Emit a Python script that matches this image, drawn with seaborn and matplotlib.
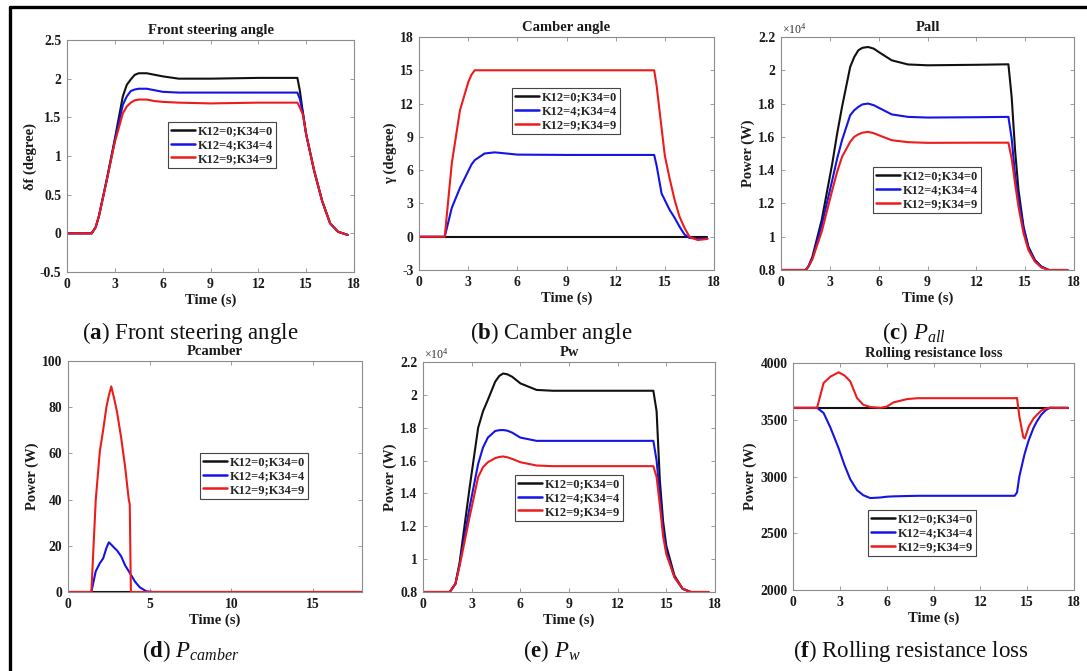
import matplotlib
matplotlib.use("Agg")
import matplotlib.pyplot as plt
from matplotlib.lines import Line2D
from matplotlib.ticker import FuncFormatter
import pandas as pd
import seaborn as sns

# ---------------------------------------------------------------- data
series_labels = ["K12=0;K34=0", "K12=4;K34=4", "K12=9;K34=9"]
series_colors = ["#111111", "#1414e6", "#ec1c1c"]

# (a) front steering angle (degree)
t_steer = [0, 1.55, 1.8, 2.0, 2.5, 3.0, 3.5, 3.75, 4.0, 4.25, 4.5, 5.0, 5.5, 6.0, 7.0, 9.0, 12.0,
           14.45, 14.6, 14.8, 15.0, 15.5, 16.0, 16.5, 17.0, 17.6]
steer_k0 = [0, 0, 0.08, 0.22, 0.70, 1.22, 1.77, 1.92, 1.99, 2.05, 2.07, 2.07, 2.05, 2.03, 2.00, 2.00, 2.01,
            2.01, 1.85, 1.55, 1.28, 0.81, 0.42, 0.13, 0.02, -0.02]
steer_k4 = [0, 0, 0.08, 0.22, 0.70, 1.20, 1.66, 1.77, 1.84, 1.86, 1.87, 1.87, 1.85, 1.83, 1.82, 1.82, 1.82,
            1.82, 1.74, 1.55, 1.28, 0.81, 0.42, 0.13, 0.02, -0.02]
steer_k9 = [0, 0, 0.08, 0.22, 0.69, 1.18, 1.55, 1.64, 1.69, 1.72, 1.73, 1.73, 1.71, 1.70, 1.69, 1.68, 1.69,
            1.69, 1.63, 1.53, 1.28, 0.81, 0.42, 0.13, 0.02, -0.02]

# (b) camber angle (degree)
t_camber = [0, 1.57, 2.0, 2.5, 3.0, 3.2, 3.4, 4.0, 4.6, 5.0, 6.0, 9.0, 12.0,
            14.35, 14.5, 14.8, 15.0, 15.3, 15.6, 15.9, 16.2, 16.5, 17.0, 17.6]
camber_k0 = [0, 0, 0, 0, 0, 0, 0, 0, 0, 0, 0, 0, 0,
             0, 0, 0, 0, 0, 0, 0, 0, 0, 0, 0]
camber_k4 = [0, 0, 2.6, 4.4, 5.9, 6.5, 6.9, 7.5, 7.6, 7.55, 7.4, 7.37, 7.37,
             7.37, 6.4, 3.9, 3.3, 2.4, 1.7, 0.9, 0.2, -0.1, -0.2, -0.15]
camber_k9 = [0, 0, 6.6, 11.4, 13.9, 14.6, 15.0, 15.0, 15.0, 15.0, 15.0, 15.0, 15.0,
             15.0, 13.6, 9.8, 7.3, 5.2, 3.3, 1.8, 0.8, 0.0, -0.3, -0.2]

# (c) total power P_all (W)
t_pall = [0, 1.52, 1.7, 1.93, 2.5, 3.15, 3.45, 3.75, 4.25, 4.5, 4.75, 5.0, 5.35, 5.7, 6.0, 6.8, 7.8,
          9.0, 12.0, 13.97, 14.17, 14.38, 14.59, 14.9, 15.2, 15.6, 16.0, 16.45, 17.6]
pall_k0 = [8000, 8000, 8250, 8800, 11000, 14400, 16200, 17800, 20200, 20800, 21200, 21350, 21400,
           21300, 21100, 20600, 20350, 20300, 20330, 20360, 18400, 15200, 12800, 10600, 9400, 8600,
           8200, 8000, 8000]
pall_k4 = [8000, 8000, 8230, 8700, 10700, 13400, 14700, 15800, 17300, 17600, 17800, 17950, 18000,
           17900, 17750, 17350, 17200, 17160, 17180, 17200, 15900, 13700, 12300, 10500, 9300, 8550,
           8200, 8000, 8000]
pall_k9 = [8000, 8000, 8220, 8650, 10300, 12800, 13900, 14800, 15700, 16000, 16150, 16250, 16300,
           16220, 16100, 15800, 15680, 15640, 15650, 15650, 14700, 13200, 11800, 10200, 9200, 8500,
           8150, 8000, 8000]

# (d) camber power P_camber (W)
t_pcam = [0, 1.43, 1.7, 1.95, 2.15, 2.35, 2.5, 2.65, 2.85, 3.0, 3.25, 3.5, 3.72, 3.78,
          3.85, 4.1, 4.4, 4.8, 5.2, 10.0, 15.0, 18.0]
pcam_k0 = [0, 0, 0, 0, 0, 0, 0, 0, 0, 0, 0, 0, 0, 0,
           0, 0, 0, 0, 0, 0, 0, 0]
pcam_k4 = [0, 0, 9, 12.5, 14.5, 19, 21.5, 20.5, 19, 18, 15.5, 11.5, 9, 8.3,
           7.5, 4.5, 2, 0.3, 0, 0, 0, 0]
pcam_k9 = [0, 0, 40, 61, 70, 80, 85, 89, 83, 78, 67, 54, 40, 38,
           0, 0, 0, 0, 0, 0, 0, 0]

# (e) wheel power P_w (W)
t_pw = [0, 1.65, 2.0, 2.26, 2.88, 3.4, 3.7, 4.0, 4.45, 4.7, 4.94, 5.2, 5.5, 6.0, 7.0, 8.0, 12.0,
        14.2, 14.4, 14.6, 14.8, 15.0, 15.5, 16.0, 16.5, 17.6]
pw_k0 = [8000, 8000, 8500, 9800, 14400, 18000, 19000, 19700, 20800, 21150, 21300, 21250, 21100,
         20700, 20300, 20250, 20250, 20250, 19000, 14800, 12300, 10800, 9000, 8200, 8000, 8000]
pw_k4 = [8000, 8000, 8500, 9700, 13200, 15800, 16800, 17400, 17800, 17850, 17860, 17820, 17700,
         17400, 17200, 17200, 17200, 17200, 16000, 13900, 11800, 10500, 8900, 8200, 8000, 8000]
pw_k9 = [8000, 8000, 8500, 9600, 12600, 15000, 15600, 15900, 16150, 16220, 16250, 16200, 16100,
         15900, 15700, 15660, 15660, 15660, 15000, 13300, 11400, 10300, 8900, 8200, 8000, 8000]

# (f) rolling resistance loss (W)
t_roll = [0, 1.54, 1.96, 2.4, 2.92, 3.3, 3.67, 4.1, 4.5, 4.95, 5.6, 6.0, 6.44, 7.3,
          8.0, 12.0, 14.2, 14.35, 14.5, 14.75, 14.85, 15.1, 15.4, 15.6, 15.9, 16.2, 16.46, 17.6]
roll_k0 = [3605, 3605, 3605, 3605, 3605, 3605, 3605, 3605, 3605, 3605, 3605, 3605, 3605, 3605,
           3605, 3605, 3605, 3605, 3605, 3605, 3605, 3605, 3605, 3605, 3605, 3605, 3605, 3605]
roll_k4 = [3605, 3605, 3560, 3430, 3250, 3100, 2975, 2880, 2835, 2810, 2815, 2822, 2825, 2828,
           2830, 2830, 2830, 2860, 3000, 3150, 3206, 3320, 3426, 3480, 3544, 3585, 3606, 3605]
roll_k9 = [3605, 3605, 3824, 3880, 3918, 3890, 3838, 3691, 3632, 3612, 3605, 3615, 3653, 3682,
           3690, 3690, 3690, 3692, 3529, 3347, 3335, 3440, 3510, 3540, 3580, 3600, 3605, 3605]

# ---------------------------------------------------------------- style
sns.set_style("ticks")
plt.rcParams["font.family"] = ["Liberation Serif", "DejaVu Serif"]
plt.rcParams.update({
    "font.weight": "bold",
    "axes.labelweight": "bold",
    "axes.titleweight": "bold",
    "mathtext.fontset": "custom",
    "mathtext.rm": "Liberation Serif:weight=normal",
    "mathtext.it": "Liberation Serif:style=italic:weight=normal",
    "mathtext.bf": "Liberation Serif:weight=bold",
    "axes.edgecolor": "#8c8c8c",
    "axes.linewidth": 0.8,
})

W, H = 1087, 671
fig = plt.figure(figsize=(W / 100, H / 100), dpi=100)
fig.patch.set_facecolor("white")


def px_box(left, top, right, bottom):
    return [left / W, 1 - bottom / H, (right - left) / W, (bottom - top) / H]


def long_frame(t, curves):
    parts = [pd.DataFrame({"Time": t, "Value": y, "Case": lab})
             for lab, y in zip(series_labels, curves)]
    return pd.concat(parts, ignore_index=True)


def panel(box, t, curves, title, ylabel, ylim, yticks, xticks, legend_xy,
          scale=1.0, sci=False):
    ax = fig.add_axes(px_box(*box))
    sns.lineplot(data=long_frame(t, curves), x="Time", y="Value", hue="Case",
                 hue_order=series_labels, palette=series_colors,
                 estimator=None, sort=False, lw=1.5, legend=False, ax=ax)
    ax.set_xlim(0, 18)
    ax.set_ylim(*ylim)
    ax.set_xticks(xticks)
    ax.set_yticks(yticks)
    ax.xaxis.set_major_formatter(FuncFormatter(lambda v, p: f"{v:g}"))
    ax.yaxis.set_major_formatter(FuncFormatter(lambda v, p: f"{v / scale:g}"))
    ax.tick_params(direction="in", top=True, right=True, length=3, width=0.6,
                   color="#8c8c8c", labelsize=9.8, labelcolor="#1a1a1a", pad=4)
    for lab in ax.get_xticklabels() + ax.get_yticklabels():
        lab.set_fontweight("bold")
    ax.set_title(title, fontsize=10.5, fontweight="bold", pad=4, color="#1a1a1a")
    ax.set_xlabel("Time (s)", fontsize=10.5, labelpad=2, color="#1a1a1a")
    ax.set_ylabel(ylabel, fontsize=10.5, labelpad=2, color="#1a1a1a")
    if sci:
        ax.text(0.005, 1.003, "×10$^{4}$", transform=ax.transAxes, ha="left",
                va="bottom", fontsize=8.5, fontweight="normal", color="#333333")
    leg = ax.legend(ax.lines[:3], series_labels, loc="upper left",
                    bbox_to_anchor=legend_xy, borderaxespad=0, frameon=True,
                    fancybox=False, edgecolor="#444444", framealpha=1,
                    handlelength=1.9, handletextpad=0.2, borderpad=0.25,
                    labelspacing=0.15, prop={"weight": "bold", "size": 9})
    leg.get_frame().set_linewidth(0.8)
    for handle in leg.get_lines():
        handle.set_linewidth(1.8)
    return ax


x_ticks = [0, 3, 6, 9, 12, 15, 18]

panel((67, 40, 354, 272), t_steer, [steer_k0, steer_k4, steer_k9],
      "Front steering angle", "δf (degree)", (-0.5, 2.5),
      [-0.5, 0, 0.5, 1, 1.5, 2, 2.5], x_ticks, (0.352, 0.647))

panel((419, 37, 714, 270), t_camber, [camber_k0, camber_k4, camber_k9],
      "Camber angle", "γ (degree)", (-3, 18),
      [-3, 0, 3, 6, 9, 12, 15, 18], x_ticks, (0.315, 0.781))

panel((781, 37, 1074, 270), t_pall, [pall_k0, pall_k4, pall_k9],
      "Pall", "Power (W)", (8000, 22000),
      [8000, 10000, 12000, 14000, 16000, 18000, 20000, 22000], x_ticks,
      (0.314, 0.442), scale=1e4, sci=True)

panel((68, 361, 362, 592), t_pcam, [pcam_k0, pcam_k4, pcam_k9],
      "Pcamber", "Power (W)", (0, 100),
      [0, 20, 40, 60, 80, 100], [0, 5, 10, 15], (0.449, 0.602))

panel((423, 362, 715, 592), t_pw, [pw_k0, pw_k4, pw_k9],
      "Pw", "Power (W)", (8000, 22000),
      [8000, 10000, 12000, 14000, 16000, 18000, 20000, 22000], x_ticks,
      (0.315, 0.509), scale=1e4, sci=True)

panel((793, 363, 1074, 590), t_roll, [roll_k0, roll_k4, roll_k9],
      "Rolling resistance loss", "Power (W)", (2000, 4000),
      [2000, 2500, 3000, 3500, 4000], x_ticks, (0.267, 0.352))

# sub-figure captions
captions = [
    (190, 333, r"($\mathbf{a}$) Front steering angle"),
    (551, 333, r"($\mathbf{b}$) Camber angle"),
    (914, 333, r"($\mathbf{c}$) $P_{all}$"),
    (191, 651, r"($\mathbf{d}$) $P_{camber}$"),
    (552, 651, r"($\mathbf{e}$) $P_{w}$"),
    (911, 651, r"($\mathbf{f}$) Rolling resistance loss"),
]
for cx, cy, text in captions:
    fig.text(cx / W, 1 - cy / H, text, ha="center", va="center",
             fontsize=16.5, fontweight="normal", color="#111111")

# frame around the figure
fig.add_artist(Line2D([9.5 / W, 9.5 / W], [0, 1 - 6.5 / H],
                      transform=fig.transFigure, color="black", lw=2.4))
fig.add_artist(Line2D([9.5 / W, 1], [1 - 6.5 / H, 1 - 6.5 / H],
                      transform=fig.transFigure, color="black", lw=2.4))

fig.savefig("out.png", dpi=100, facecolor="white")
